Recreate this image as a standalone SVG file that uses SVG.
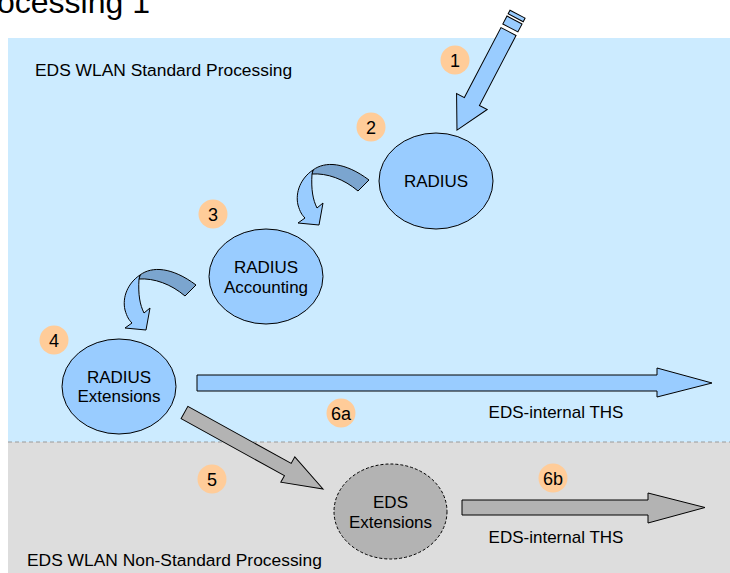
<svg xmlns="http://www.w3.org/2000/svg" xmlns:xlink="http://www.w3.org/1999/xlink" width="730" height="573" viewBox="0 0 730 573">
<style>
text{font-family:"Liberation Sans",Arial,sans-serif;fill:#000}
.lbl{font-size:17px;text-anchor:middle}
.zone{font-size:17.4px}
.badge ellipse{fill:#FFCC99;stroke:none}
.badge text{font-size:18px;text-anchor:middle}
.node-blue{fill:#99CCFF;stroke:#000;stroke-width:1}
.node-gray{fill:#B3B3B3;stroke:#000;stroke-width:1;stroke-dasharray:3 2}
.arr-blue{fill:#99CCFF;stroke:#000;stroke-width:1;stroke-linejoin:miter}
.arr-gray{fill:#B3B3B3;stroke:#000;stroke-width:1}
.arr-dark{fill:#7BA5CF;stroke:#000;stroke-width:1}
</style>
<defs>
<g id="curl">
<path class="arr-dark" d="M0,0 C12,-9 32,-8 56,10 L45,21 C31,9 14,3 -1,4 Z"/>
<path class="arr-blue" d="M0,0 C-12,8 -18,22 -15,35 C-13,42 -11,45 -8,48 L-15,53 L6,55 L10,33 L4,38 C0,30 -2,20 -1,4 Z"/>
</g>
</defs>
<rect x="0" y="0" width="730" height="573" fill="#FFFFFF"/>
<text x="-3" y="13" style="font-size:32px">ocessing 1</text>
<rect x="8" y="38" width="722" height="404" fill="#CCEBFF"/>
<rect x="8" y="442" width="722" height="131" fill="#DDDDDD"/>
<line x1="8" y1="442" x2="730" y2="442" stroke="#9A9A9A" stroke-width="1" stroke-dasharray="4 3"/>
<text class="zone" x="35" y="76">EDS WLAN Standard Processing</text>
<text class="zone" x="27" y="566">EDS WLAN Non-Standard Processing</text>
<g id="connectors">
<g id="arrow-1" transform="translate(508.5,31.5) rotate(117.6)">
<path class="arr-blue" d="M0,-8.5 L79,-8.5 L79,-17.3 L111.2,0 L79,17.3 L79,8.5 L0,8.5 Z"/>
<rect class="arr-blue" x="-13" y="-8.5" width="9" height="17"/>
<rect class="arr-blue" x="-19.5" y="-8.5" width="4" height="17"/>
</g>
<use id="arrow-2" xlink:href="#curl" href="#curl" transform="translate(313,170)"/>
<use id="arrow-3" xlink:href="#curl" href="#curl" transform="translate(140,275)"/>
<path id="arrow-6a" class="arr-blue" d="M197,375 L657,375 L657,368 L712,383 L657,397 L657,391 L197,391 Z"/>
<path id="arrow-5" class="arr-gray" transform="translate(184.5,412.5) rotate(28.9)" d="M0,-7 L118,-7 L118,-14.5 L158.2,0 L118,14.5 L118,7 L0,7 Z"/>
<path id="arrow-6b" class="arr-gray" d="M462,500 L648,500 L648,493 L705,507.5 L648,523 L648,515 L462,515 Z"/>
</g>
<g id="node-radius">
<ellipse class="node-blue" cx="436" cy="181" rx="57" ry="48"/>
<text class="lbl" x="436" y="187">RADIUS</text>
</g>
<g id="node-radius-accounting">
<ellipse class="node-blue" cx="266" cy="276.5" rx="57" ry="47.5"/>
<text class="lbl" x="266" y="273">RADIUS</text>
<text class="lbl" x="266" y="293">Accounting</text>
</g>
<g id="node-radius-extensions">
<ellipse class="node-blue" cx="119" cy="386.5" rx="57" ry="47.5"/>
<text class="lbl" x="119" y="383">RADIUS</text>
<text class="lbl" x="119" y="402">Extensions</text>
</g>
<g id="node-eds-extensions">
<ellipse class="node-gray" cx="390.5" cy="511.5" rx="56.5" ry="47.5"/>
<text class="lbl" x="390.5" y="508">EDS</text>
<text class="lbl" x="390.5" y="528">Extensions</text>
</g>
<g id="labels">
<text class="lbl" x="556" y="418">EDS-internal THS</text>
<text class="lbl" x="556" y="543">EDS-internal THS</text>
</g>
<g id="badges">
<g id="badge-1" class="badge"><ellipse cx="455" cy="60" rx="14.5" ry="14.5"/><text x="455" y="66.5">1</text></g>
<g id="badge-2" class="badge"><ellipse cx="371" cy="127" rx="14.5" ry="14.5"/><text x="371" y="133.5">2</text></g>
<g id="badge-3" class="badge"><ellipse cx="213" cy="214" rx="14.5" ry="14.5"/><text x="213" y="220.5">3</text></g>
<g id="badge-4" class="badge"><ellipse cx="54" cy="340" rx="14.5" ry="14.5"/><text x="54" y="346.5">4</text></g>
<g id="badge-6a" class="badge"><ellipse cx="341" cy="413" rx="14.5" ry="14.5"/><text x="341" y="419.5">6a</text></g>
<g id="badge-5" class="badge"><ellipse cx="212" cy="479" rx="14.5" ry="14.5"/><text x="212" y="485.5">5</text></g>
<g id="badge-6b" class="badge"><ellipse cx="553" cy="478" rx="14.5" ry="14.5"/><text x="553" y="484.5">6b</text></g>
</g>
</svg>
